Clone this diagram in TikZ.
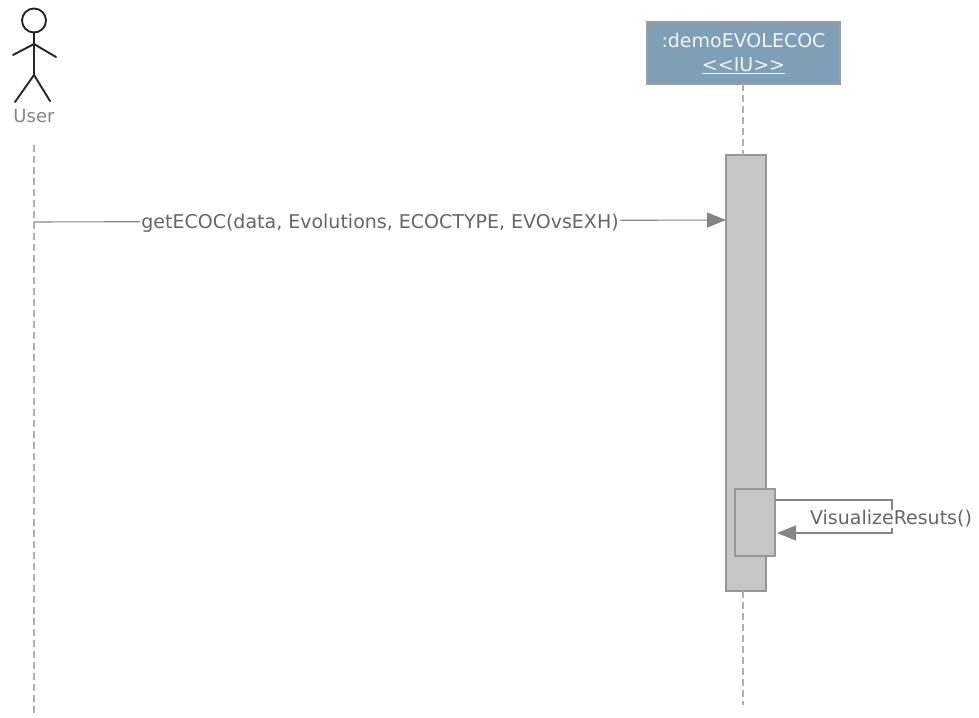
\documentclass[tikz,border=0pt]{standalone}
\usepackage{fontspec}
\setmainfont{DejaVu Sans}
\usetikzlibrary{arrows.meta,positioning,calc}
\definecolor{lineGray}{HTML}{858585}
\definecolor{textGray}{HTML}{666666}
\definecolor{barGray}{HTML}{C6C6C6}
\definecolor{boxBlue}{HTML}{7F9FB6}

\begin{document}
\begin{tikzpicture}[
    x=1pt, y=-1pt,
    actorline/.style={line width=1.9pt, black!85, line cap=round},
    lifeline/.style={line width=1.8pt, lineGray!65, dash pattern=on 7pt off 4pt},
    activation/.style={draw=lineGray!85, line width=1.2pt, fill=barGray, minimum width=40pt, inner sep=0pt, outer sep=0pt},
    message/.style={line width=1.1pt, lineGray, -{Triangle[length=19pt, width=15pt]}},
    msglabel/.style={font=\fontsize{19}{22}\selectfont, text=textGray, inner sep=1pt}
]
\useasboundingbox (0,0) rectangle (979,717);
% actor
\node[circle, draw=black!85, line width=1.9pt, minimum size=24pt, inner sep=0pt, outer sep=0pt] (head) at (34,20.5) {};
\coordinate (shoulder) at (34,44);
\coordinate (hip) at (34,75);
\draw[actorline] (head.south) -- (hip);
\draw[actorline] (13,55) -- (shoulder) -- (56,57);
\draw[actorline] (15,102) -- (hip) -- (50,101);
\node[msglabel, font=\fontsize{18}{22}\selectfont, text=textGray!80] (user) at (34,116) {User};
% object
\node[draw=lineGray!80, line width=1.2pt, fill=boxBlue, text=white!90!boxBlue, align=center, font=\fontsize{19}{24}\selectfont,
    minimum width=193pt, minimum height=62pt, inner sep=0pt, outer sep=0pt] (demo) at (743.5,53) {:demoEVOLECOC\\\underline{<{}<IU>{}>}};
\node[activation, minimum height=436pt] (bar) at (746,373) {};
\node[activation, minimum height=67pt] (inner) at (755,522.5) {};
% lifelines
\coordinate (userstart) at (34,145);
\coordinate (userend) at (34,717);
\coordinate (demoend) at (743,705);
\draw[lifeline] (userstart) -- (userend);
\draw[lifeline] (demo.south -| demoend) -- (bar.north -| demoend);
\draw[lifeline] (bar.south -| demoend) -- (demoend);
% messages
\coordinate (callstart) at (34,222);
\draw[message] (callstart) -- (bar.west |- 0,220) node[msglabel, midway, fill=white, yshift=-2pt] (getecoc) {getECOC(data, Evolutions, ECOCTYPE, EVOvsEXH)};
\coordinate (selfa) at (892,500);
\coordinate (selfb) at (892,533);
\draw[message] (inner.east |- selfa) -- (selfa) -- (selfb) -- ($(inner.east |- selfb)+(2,0)$);
\node[msglabel, fill=white] (visualize) at (891,519) {VisualizeResuts()};
\end{tikzpicture}
\end{document}
